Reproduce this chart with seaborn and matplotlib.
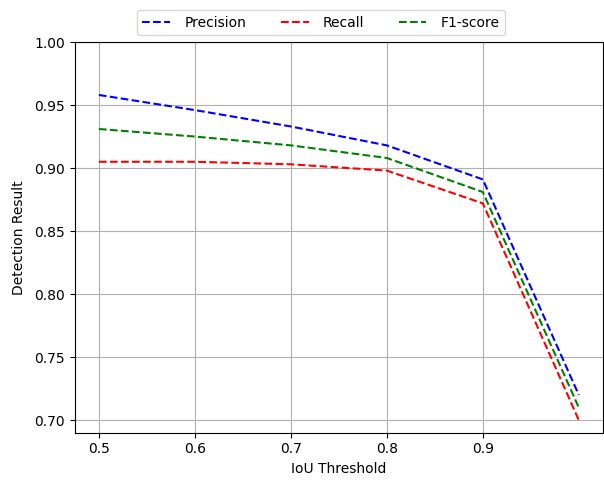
import pandas as pd
import seaborn as sns
import matplotlib.pyplot as plt

# values
iou = [0.5, 0.6, 0.7, 0.8, 0.9, 1.0]
precision = [0.958, 0.946, 0.933, 0.918, 0.891, 0.720]
recall = [0.905, 0.905, 0.903, 0.898, 0.872, 0.700]
f1_score = [0.931, 0.925, 0.918, 0.908, 0.881, 0.710]
metric_names = ['Precision', 'Recall', 'F1-score']

df = pd.DataFrame({'IoU': iou, 'Precision': precision,
                   'Recall': recall, 'F1-score': f1_score})
long_df = df.melt(id_vars='IoU', var_name='Metric', value_name='Value')

fig = plt.figure(figsize=(6.04, 4.83), dpi=100)
ax = fig.add_axes([0.124, 0.104, 0.874, 0.809])

sns.lineplot(data=long_df, x='IoU', y='Value', hue='Metric', hue_order=metric_names,
             palette=['blue', 'red', 'green'], linestyle='--', ax=ax)
for line in ax.get_lines():
    line.set_linestyle('--')

ax.set_xticks([0.5, 0.6, 0.7, 0.8, 0.9])
ax.set_xlim(0.475, 1.025)
ax.set_ylim(0.69, 1.0)
ax.grid(True)
ax.set_xlabel('IoU Threshold')
ax.set_ylabel('Detection Result', labelpad=6)

handles, labels = ax.get_legend_handles_labels()
for h in handles:
    h.set_linestyle('--')
ax.legend(handles, labels, loc='lower center', bbox_to_anchor=(0.466, 1.0), ncol=3,
          columnspacing=2.5, handletextpad=1.0)

plt.savefig('out.png', dpi=100)
